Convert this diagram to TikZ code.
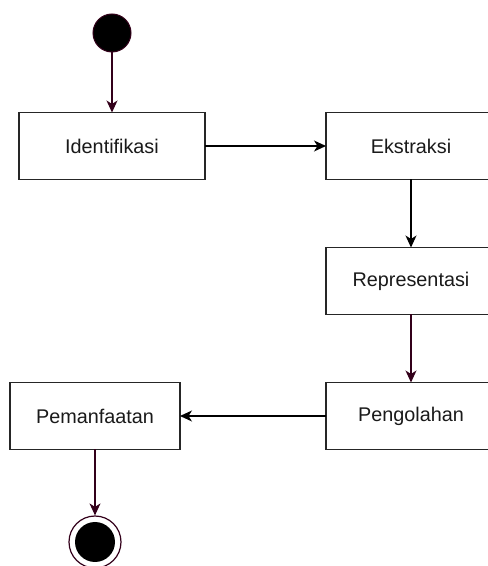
\documentclass[tikz,border=0pt]{standalone}
\usepackage{fontspec}
\setmainfont{Liberation Sans}
\usetikzlibrary{arrows.meta}
\definecolor{maroon}{HTML}{33001A}
\definecolor{txt}{HTML}{1A1A1A}
\tikzset{
  actbox/.style={draw=black!85, line width=1.3pt, fill=white, minimum height=67pt, inner sep=0pt, outer sep=0pt, text=txt, font=\fontsize{19.8}{23}\selectfont},
  conn/.style={line width=1.2pt, -{Stealth[length=12pt,width=11pt,inset=3.5pt]}},
  mconn/.style={conn, draw=maroon, color=maroon}
}
\begin{document}
\begin{tikzpicture}[x=1pt,y=1pt]
\useasboundingbox (0,0) rectangle (488,566);
\clip (0,0) rectangle (488,566);
\node[circle, fill=black, draw=maroon, line width=1pt, minimum size=38pt, inner sep=0pt] (start) at (112,533) {};
\node[actbox, minimum width=186pt] (ident) at (112,420) {Identifikasi};
\node[actbox, minimum width=170pt] (ekst) at (411,420) {Ekstraksi};
\node[actbox, minimum width=170pt] (repr) at (411,285) {Representasi};
\node[actbox, minimum width=170pt] (peng) at (411,150) {Pengolahan};
\node[actbox, minimum width=170pt] (pem) at (95,150) {Pemanfaatan};
\node[circle, draw=maroon, line width=1.2pt, minimum size=52pt, inner sep=0pt] (end) at (95,24) {};
\node[circle, fill=black, minimum size=40pt, inner sep=0pt] (endin) at (end.center) {};
\draw[mconn] (start) -- (ident);
\draw[conn] (ident) -- (ekst);
\draw[conn] (ekst) -- (repr);
\draw[mconn] (repr) -- (peng);
\draw[conn] (peng) -- (pem);
\draw[mconn] (pem) -- (end);
\end{tikzpicture}
\end{document}
